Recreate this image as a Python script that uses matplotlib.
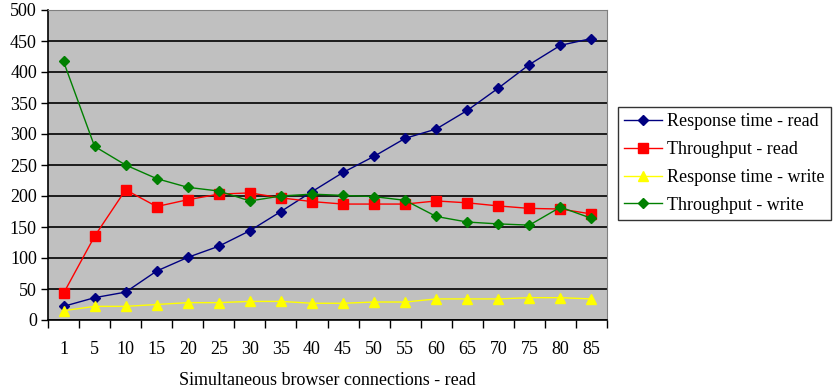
import numpy as np
import matplotlib.pyplot as plt

connections = ["1", "5", "10", "15", "20", "25", "30", "35", "40", "45",
               "50", "55", "60", "65", "70", "75", "80", "85"]
resp_read = [22, 36, 45, 79, 101, 119, 144, 175, 207, 238,
             264, 293, 308, 338, 374, 412, 443, 454]
thru_read = [43, 135, 210, 183, 194, 203, 205, 197, 191, 187,
             187, 187, 192, 189, 184, 180, 179, 171]
resp_write = [15, 22, 22, 25, 28, 28, 30, 30, 27, 27,
              29, 29, 34, 34, 34, 36, 36, 34]
thru_write = [417, 280, 250, 228, 214, 208, 192, 200, 203, 201,
              199, 193, 167, 158, 155, 153, 182, 164]


def main():
    plt.rcParams['font.family'] = ['Liberation Serif', 'DejaVu Serif']
    fig = plt.figure(figsize=(8.36, 3.89), dpi=100)
    ax = fig.add_axes([48 / 836, 69 / 389, 559 / 836, 310 / 389])
    ax.set_facecolor('#c0c0c0')

    x = np.arange(len(connections))
    ax.plot(x, resp_read, '-', color='#000080', marker='D', ms=5.5, lw=1, label='Response time - read')
    ax.plot(x, thru_read, '-', color='#ff0000', marker='s', ms=7, lw=1, label='Throughput - read')
    ax.plot(x, resp_write, '-', color='#ffff00', marker='^', ms=7.5, lw=1, label='Response time - write')
    ax.plot(x, thru_write, '-', color='#008000', marker='D', ms=5.5, lw=1, label='Throughput - write')

    ax.set_xlim(-0.5, len(connections) - 0.5)
    ax.set_ylim(0, 500)
    ax.set_yticks(np.arange(0, 501, 50))
    ax.yaxis.grid(True, color='black', lw=1.2)
    ax.set_axisbelow(True)

    # ticks between categories, labels centered
    ax.set_xticks(np.arange(-0.5, len(connections), 1))
    ax.set_xticklabels([])
    ax.set_xticks(x, minor=True)
    ax.set_xticklabels(connections, minor=True, fontsize=13)
    ax.tick_params(axis='x', which='minor', length=0, pad=15)
    ax.tick_params(axis='x', which='major', length=6, width=1, direction='out')
    ax.tick_params(axis='y', length=5, width=1, labelsize=13, pad=3)

    for s in ['top', 'right']:
        ax.spines[s].set_color('#808080')
    for s in ['left', 'bottom']:
        ax.spines[s].set_color('black')
        ax.spines[s].set_linewidth(1.2)

    ax.set_xlabel("Simultaneous browser connections - read", fontsize=13, labelpad=10)

    leg = ax.legend(loc='center left', bbox_to_anchor=(1.02, 0.505), borderaxespad=0,
                    fontsize=13, frameon=True, fancybox=False, edgecolor='black',
                    handlelength=2.1, borderpad=0.35, labelspacing=0.6, handletextpad=0.25)
    leg.get_frame().set_linewidth(1)

    fig.savefig('out.png', dpi=100)


if __name__ == '__main__':
    main()
